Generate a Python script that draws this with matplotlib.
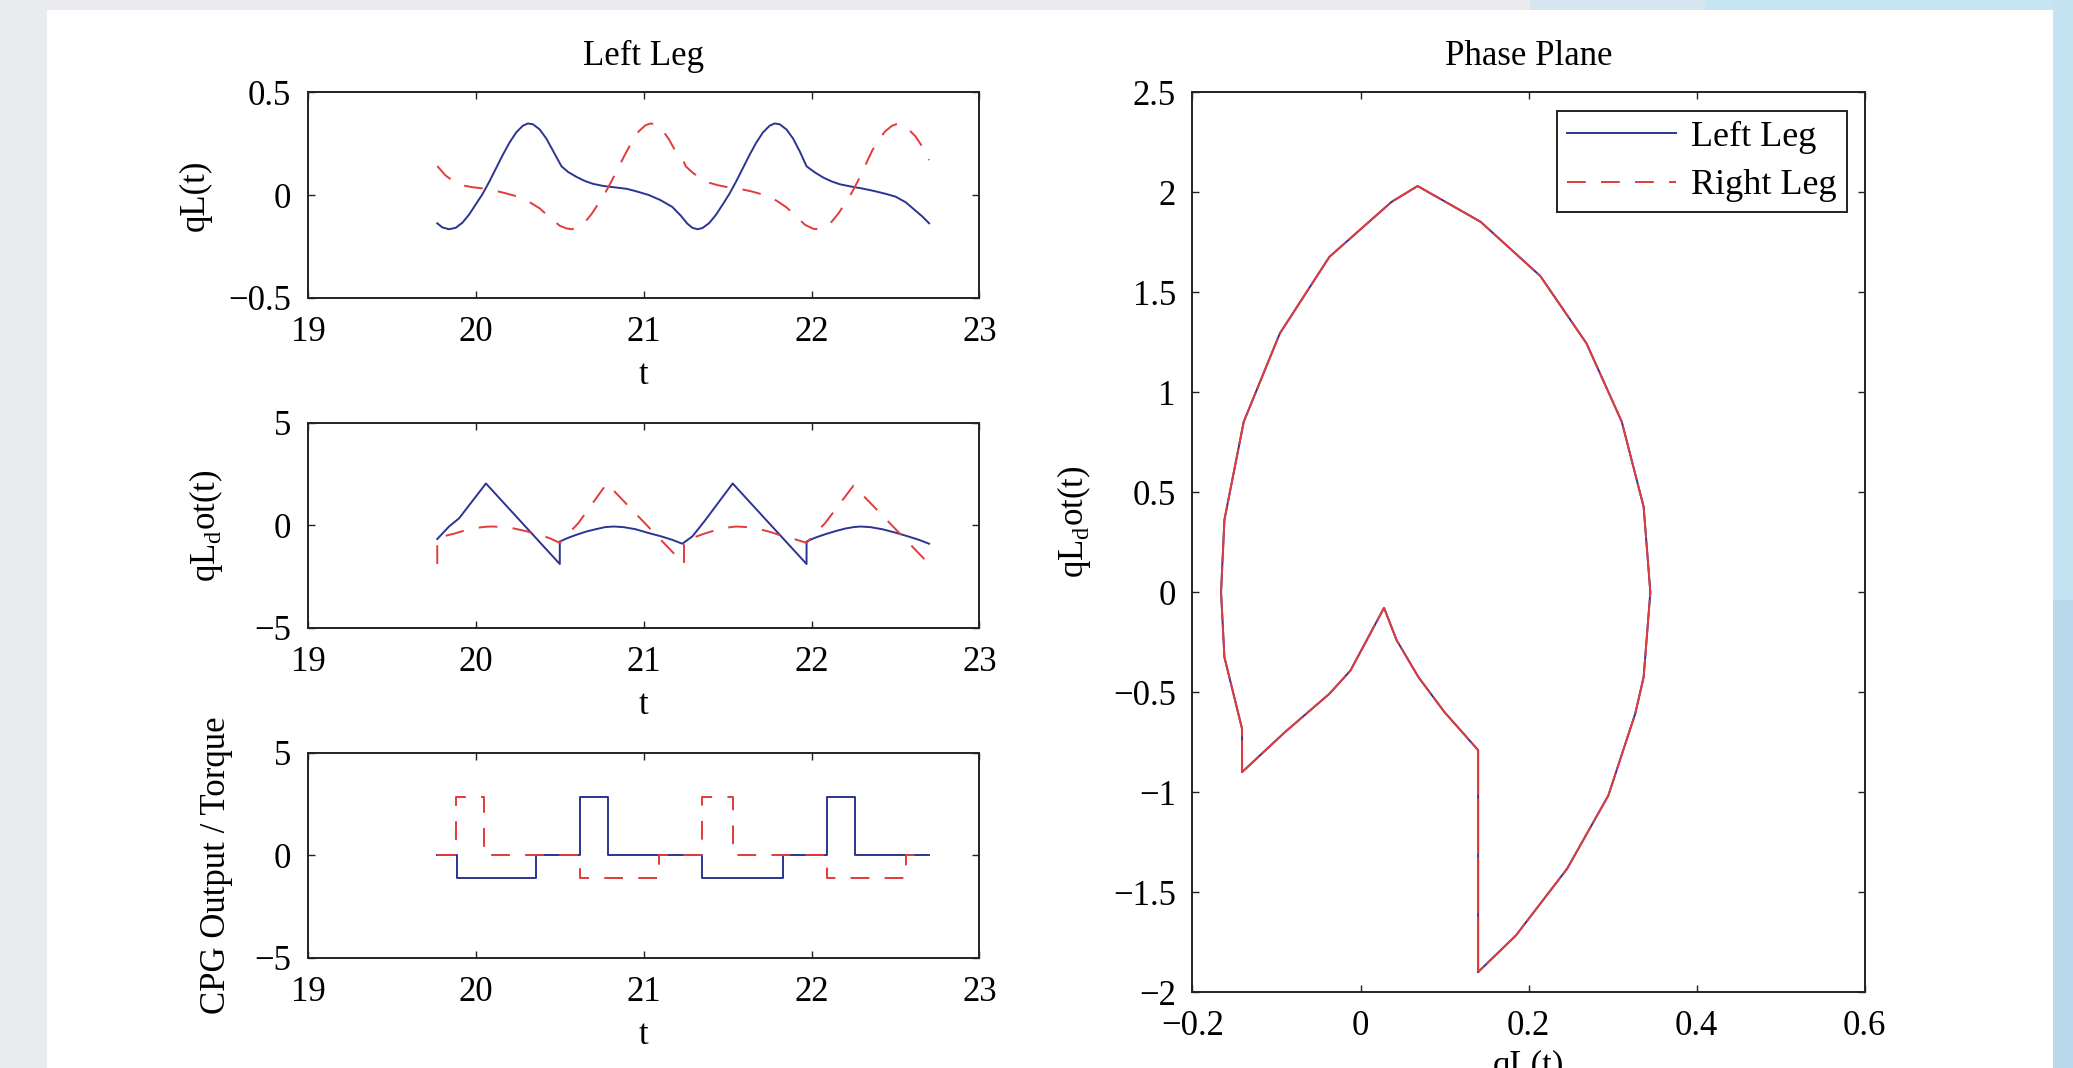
import matplotlib
matplotlib.use("Agg")
from matplotlib import pyplot as plt
from matplotlib.lines import Line2D
from matplotlib.patches import Rectangle
from matplotlib.ticker import FuncFormatter

plt.rcParams['font.family'] = ['Liberation Serif', 'DejaVu Serif']
plt.rcParams['mathtext.fontset'] = 'custom'
plt.rcParams['mathtext.rm'] = 'Liberation Serif'
plt.rcParams['lines.scale_dashes'] = False

# ---- joint angle qL(t) ----
t_q_left = [19.77, 19.80, 19.84, 19.88, 19.92, 19.96, 20.00, 20.04, 20.08, 20.12,
            20.16, 20.20, 20.24, 20.28, 20.31, 20.34, 20.38, 20.42, 20.46, 20.51,
            20.55, 20.60, 20.65, 20.70, 20.76, 20.83, 20.90, 20.96, 21.03, 21.10,
            21.17, 21.22, 21.26, 21.29, 21.32, 21.35, 21.39, 21.43, 21.47, 21.51,
            21.55, 21.59, 21.63, 21.67, 21.71, 21.75, 21.78, 21.81, 21.85, 21.89,
            21.93, 21.97, 22.02, 22.07, 22.12, 22.17, 22.23, 22.30, 22.37, 22.44,
            22.50, 22.56, 22.61, 22.66, 22.70]
q_left = [-0.138, -0.158, -0.167, -0.160, -0.135, -0.095, -0.045, 0.005, 0.065, 0.130,
          0.195, 0.255, 0.305, 0.338, 0.349, 0.345, 0.320, 0.275, 0.215, 0.140,
          0.112, 0.088, 0.068, 0.054, 0.044, 0.037, 0.030, 0.017, 0.000, -0.025,
          -0.058, -0.100, -0.140, -0.160, -0.167, -0.161, -0.137, -0.097, -0.047, 0.005,
          0.065, 0.130, 0.195, 0.255, 0.305, 0.338, 0.349, 0.345, 0.320, 0.275,
          0.212, 0.140, 0.110, 0.085, 0.066, 0.052, 0.042, 0.032, 0.020, 0.006,
          -0.008, -0.035, -0.070, -0.105, -0.138]

t_q_right = [19.77, 19.82, 19.87, 19.92, 19.98, 20.04, 20.10, 20.17, 20.25, 20.31,
             20.38, 20.44, 20.50, 20.54, 20.57, 20.61, 20.65, 20.69, 20.73, 20.77,
             20.81, 20.85, 20.89, 20.93, 20.97, 21.01, 21.04, 21.07, 21.11, 21.15,
             21.19, 21.24, 21.25, 21.29, 21.34, 21.39, 21.44, 21.50, 21.57, 21.64,
             21.72, 21.79, 21.85, 21.91, 21.96, 22.01, 22.04, 22.08, 22.12, 22.16,
             22.20, 22.24, 22.28, 22.32, 22.36, 22.40, 22.44, 22.48, 22.51, 22.54,
             22.58, 22.62, 22.66, 22.70]
q_right = [0.141, 0.095, 0.065, 0.047, 0.038, 0.032, 0.024, 0.010, -0.008, -0.030,
           -0.065, -0.110, -0.150, -0.163, -0.167, -0.158, -0.132, -0.092, -0.042, 0.010,
           0.070, 0.135, 0.200, 0.260, 0.310, 0.340, 0.349, 0.344, 0.318, 0.272,
           0.212, 0.160, 0.140, 0.110, 0.080, 0.060, 0.048, 0.038, 0.030, 0.018,
           0.000, -0.027, -0.060, -0.105, -0.145, -0.165, -0.167, -0.158, -0.130, -0.090,
           -0.040, 0.012, 0.075, 0.145, 0.215, 0.270, 0.312, 0.338, 0.347, 0.342,
           0.318, 0.285, 0.235, 0.170]

# ---- joint velocity qL_dot(t) ----
t_qd_left = [19.77, 19.84, 19.90, 20.06, 20.50, 20.50, 20.55, 20.60, 20.66, 20.72,
             20.77, 20.82, 20.88, 20.95, 21.03, 21.10, 21.17, 21.23, 21.29, 21.36,
             21.53, 21.97, 21.97, 22.02, 22.08, 22.14, 22.20, 22.25, 22.29, 22.35,
             22.42, 22.50, 22.57, 22.64, 22.70]
qd_left = [-0.66, -0.05, 0.35, 2.05, -1.88, -0.78, -0.60, -0.45, -0.29, -0.17,
           -0.08, -0.05, -0.08, -0.18, -0.37, -0.52, -0.70, -0.89, -0.53, 0.19,
           2.05, -1.88, -0.78, -0.60, -0.43, -0.28, -0.15, -0.08, -0.05, -0.08,
           -0.18, -0.35, -0.52, -0.70, -0.89]

t_qd_right = [19.77, 19.77, 19.82, 19.87, 19.93, 20.00, 20.06, 20.10, 20.16, 20.23,
              20.30, 20.37, 20.44, 20.50, 20.55, 20.61, 20.78, 21.24, 21.24, 21.30,
              21.36, 21.42, 21.48, 21.55, 21.62, 21.69, 21.76, 21.82, 21.90, 21.97,
              22.02, 22.08, 22.25, 22.70]
qd_right = [-1.88, -0.66, -0.50, -0.40, -0.25, -0.12, -0.06, -0.05, -0.08, -0.15,
            -0.28, -0.43, -0.62, -0.85, -0.40, 0.11, 2.05, -1.88, -0.78, -0.58,
            -0.40, -0.25, -0.12, -0.05, -0.08, -0.18, -0.33, -0.50, -0.67, -0.85,
            -0.40, 0.11, 1.95, -1.88]

# ---- CPG output / torque (piecewise constant) ----
t_cpg_left = [19.77, 19.89, 20.36, 20.62, 20.79, 21.35, 21.83, 22.09, 22.26, 22.70]
cpg_left = [0, -1.1, 0, 2.85, 0, -1.1, 0, 2.85, 0, 0]
t_cpg_right = [19.77, 19.88, 20.05, 20.62, 21.09, 21.35, 21.53, 22.09, 22.56, 22.70]
cpg_right = [0, 2.85, 0, -1.1, 0, 2.85, 0, -1.1, 0, 0]

# ---- phase plane (both legs trace the same limit cycle) ----
phase_q = [0.140, 0.140, 0.100, 0.069, 0.043, 0.028, -0.012, -0.037, -0.090, -0.141,
           -0.141, -0.162, -0.166, -0.162, -0.139, -0.096, -0.037, 0.037, 0.068, 0.143,
           0.214, 0.269, 0.311, 0.337, 0.345, 0.337, 0.327, 0.295, 0.246, 0.185, 0.140]
phase_qd = [-1.90, -0.79, -0.60, -0.425, -0.24, -0.078, -0.392, -0.508, -0.70, -0.90,
            -0.683, -0.325, 0.0, 0.362, 0.853, 1.295, 1.678, 1.953, 2.032, 1.853,
            1.582, 1.245, 0.853, 0.428, 0.0, -0.425, -0.608, -1.017, -1.383, -1.717, -1.90]

BLUE = '#2b3492'
RED = '#e23b3b'
DASH = (13.5, 11)
FS = 25
W, H = 2073, 1068

fig = plt.figure(figsize=(W / 100, H / 100), dpi=100)
fig.patch.set_facecolor('#e9ebee')


def px_rect(x0, y0, x1, y1, color):
    fig.add_artist(Rectangle((x0 / W, 1 - y1 / H), (x1 - x0) / W, (y1 - y0) / H,
                             transform=fig.transFigure, facecolor=color,
                             edgecolor='none', zorder=-5))


# page background: grey left, light blue right, white sheet
px_rect(1530, 0, 1705, 12, '#d6e6ef')
px_rect(1705, 0, 2073, 12, '#c6e5f3')
px_rect(2053, 0, 2073, 600, '#c4e3f2')
px_rect(2053, 600, 2073, 1068, '#bad8eb')
px_rect(47, 10, 2053, 1068, 'white')

fmt = FuncFormatter(lambda v, p: f'{v:g}'.replace('-', '\u2212'))


def style(ax):
    ax.set_facecolor('white')
    for s in ax.spines.values():
        s.set_linewidth(1.4)
        s.set_color('#222222')
    ax.tick_params(direction='in', top=True, right=True, length=5, width=1.0,
                   labelsize=FS, color='#222222')
    ax.tick_params(axis='x', pad=13)
    ax.tick_params(axis='y', pad=12)
    ax.xaxis.set_major_formatter(fmt)
    ax.yaxis.set_major_formatter(fmt)


ax1 = fig.add_axes([0.14858, 0.72144, 0.3239, 0.19195])
ax2 = fig.add_axes([0.14858, 0.41199, 0.3239, 0.19195])
ax3 = fig.add_axes([0.14858, 0.10300, 0.3239, 0.19195])
ax4 = fig.add_axes([0.57525, 0.07116, 0.3242, 0.84223])

ax1.plot(t_q_left, q_left, color=BLUE, lw=1.4)
ax1.plot(t_q_right, q_right, color=RED, lw=1.4, dashes=DASH)
ax1.set_ylim(-0.5, 0.5)
ax1.set_yticks([-0.5, 0, 0.5])
ax1.set_title('Left Leg', fontsize=FS, pad=20)
ax1.set_ylabel('qL(t)', fontsize=FS)
ax1.yaxis.set_label_coords(-0.143, 0.5)

ax2.plot(t_qd_left, qd_left, color=BLUE, lw=1.4)
ax2.plot(t_qd_right, qd_right, color=RED, lw=1.4, dashes=DASH)
ax2.set_ylim(-5, 5)
ax2.set_yticks([-5, 0, 5])
ax2.set_ylabel('qL$_{\\rm d}$ot(t)', fontsize=FS)
ax2.yaxis.set_label_coords(-0.123, 0.5)

ax3.plot(t_cpg_left, cpg_left, color=BLUE, lw=1.4, drawstyle='steps-post')
ax3.plot(t_cpg_right, cpg_right, color=RED, lw=1.4, dashes=DASH, drawstyle='steps-post')
ax3.set_ylim(-5, 5)
ax3.set_yticks([-5, 0, 5])
ax3.set_ylabel('CPG Output / Torque', fontsize=FS)
ax3.yaxis.set_label_coords(-0.112, 0.453)

for ax in (ax1, ax2, ax3):
    style(ax)
    ax.set_xlim(19, 23)
    ax.set_xticks([19, 20, 21, 22, 23])
    ax.set_xlabel('t', fontsize=FS)
    ax.xaxis.set_label_coords(0.5, -0.30)

ax4.plot(phase_q, phase_qd, color=BLUE, lw=1.4)
ax4.plot(phase_q, phase_qd, color=RED, lw=1.4, dashes=(40, 2.5))
style(ax4)
ax4.set_xlim(-0.2, 0.6)
ax4.set_xticks([-0.2, 0, 0.2, 0.4, 0.6])
ax4.set_ylim(-2, 2.5)
ax4.set_yticks([-2, -1.5, -1, -0.5, 0, 0.5, 1, 1.5, 2, 2.5])
ax4.set_title('Phase Plane', fontsize=FS, pad=20)
ax4.set_ylabel('qL$_{\\rm d}$ot(t)', fontsize=FS)
ax4.yaxis.set_label_coords(-0.148, 0.5225)
ax4.set_xlabel('qL(t)', fontsize=FS)
ax4.xaxis.set_label_coords(0.5, -0.064)

handles = [Line2D([], [], color=BLUE, lw=1.4),
           Line2D([], [], color=RED, lw=1.4, dashes=DASH)]
leg = ax4.legend(handles, ['Left Leg', 'Right Leg'], loc='upper right', fontsize=FS + 1,
                 frameon=True, fancybox=False, framealpha=1, edgecolor='#222222',
                 handlelength=3.0, handletextpad=0.42, borderpad=0.28,
                 labelspacing=0.42, borderaxespad=0.5)
leg.get_frame().set_linewidth(1.4)

fig.savefig('out.png', dpi=100, facecolor=fig.get_facecolor())
